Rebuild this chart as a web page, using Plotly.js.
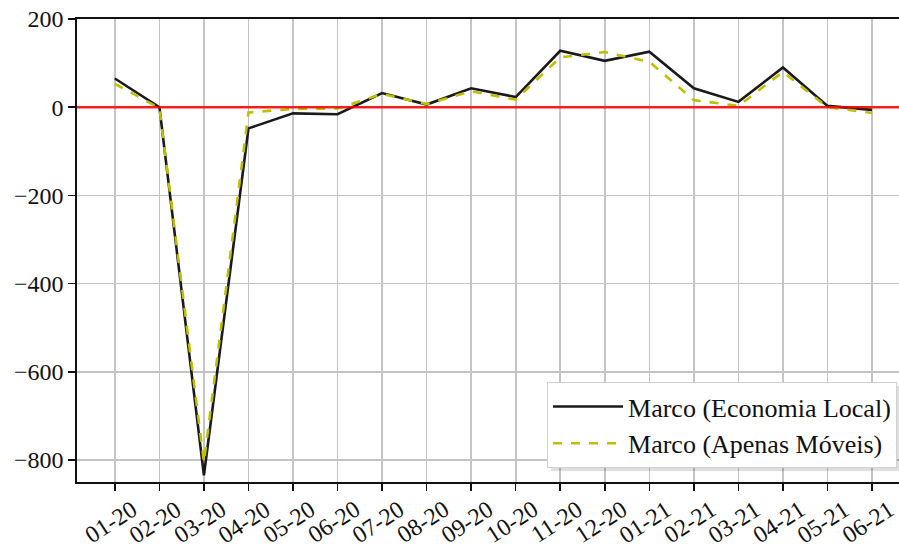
<!DOCTYPE html>
<html>
<head>
<meta charset="utf-8">
<script src="https://cdn.plot.ly/plotly-3.0.1.min.js"></script>
<style>html,body{margin:0;padding:0;background:#fff;}#chart{width:899px;height:548px;}</style>
</head>
<body>
<div id="chart"></div>
<script>
const months = ["01-20","02-20","03-20","04-20","05-20","06-20","07-20","08-20","09-20","10-20","11-20","12-20","01-21","02-21","03-21","04-21","05-21","06-21"];
const economiaLocal = [65, 0, -835, -48, -14, -16, 32, 6, 43, 23, 128, 105, 126, 43, 12, 90, 3, -6];
const apenasMoveis = [53, -2, -805, -12, -4, -3, 30, 7, 36, 17, 113, 125, 103, 16, 3, 80, 0, -13];
const yTicks = [-800, -600, -400, -200, 0, 200];
const yTickText = ["\u2212800", "\u2212600", "\u2212400", "\u2212200", "0", "200"];

const idx = months.map((m, i) => i);
const font = {family: "Liberation Serif", size: 24, color: "#111"};
const legendFont = {family: "Liberation Serif", size: 26, color: "#111"};

const traces = [
  {x: idx, y: economiaLocal, type: "scatter", mode: "lines", name: "Marco (Economia Local)",
   line: {color: "#1a1a1a", width: 2.6}},
  {x: idx, y: apenasMoveis, type: "scatter", mode: "lines", name: "Marco (Apenas M\u00f3veis)",
   line: {color: "#bfbf00", width: 2.6, dash: "dash"}}
];

// x tick labels, centred under each tick and rotated like the original
const tickLabels = months.map((m, i) => ({
  x: i, xref: "x", y: 0, yref: "paper", yshift: -40, xshift: -4,
  text: m, showarrow: false, textangle: -33,
  xanchor: "center", yanchor: "middle", font: font
}));

const layout = {
  width: 899, height: 548,
  margin: {l: 77, r: 0, t: 19, b: 66},
  paper_bgcolor: "#fff", plot_bgcolor: "#fff",
  font: font,
  showlegend: true,
  xaxis: {
    range: [-0.85, 17.606],
    tickmode: "array", tickvals: idx, showticklabels: false,
    ticks: "outside", ticklen: 7, tickwidth: 1.5, tickcolor: "#111",
    showgrid: true, gridcolor: "#c4c4c4", gridwidth: 1.6,
    showline: true, linecolor: "#111", linewidth: 1.6, mirror: true,
    zeroline: false, automargin: false
  },
  yaxis: {
    range: [-850, 200],
    tickmode: "array", tickvals: yTicks, ticktext: yTickText,
    ticks: "outside", ticklen: 7, tickwidth: 1.5, tickcolor: "#111",
    showgrid: true, gridcolor: "#c4c4c4", gridwidth: 1.6,
    showline: true, linecolor: "#111", linewidth: 1.6,
    zeroline: false, tickfont: font, automargin: false
  },
  annotations: tickLabels,
  shapes: [
    {type: "line", xref: "paper", x0: 0, x1: 1, yref: "y", y0: 0, y1: 0,
     line: {color: "rgba(255,0,0,0.85)", width: 2.6}, layer: "above"},
    // soft drop shadow behind the legend box
    {type: "rect", xref: "paper", yref: "paper", x0: 0.5766, x1: 1.01, y0: 0.0238, y1: 0.2073,
     fillcolor: "rgba(0,0,0,0.13)", line: {width: 0}, layer: "above"}
  ],
  legend: {
    x: 0.9976, xanchor: "right", y: 0.03, yanchor: "bottom",
    bgcolor: "#fff", bordercolor: "#d0d0d0", borderwidth: 1,
    font: legendFont, tracegroupgap: 0, itemwidth: 70
  }
};

Plotly.newPlot("chart", traces, layout, {displayModeBar: false, staticPlot: true});
</script>
</body>
</html>
